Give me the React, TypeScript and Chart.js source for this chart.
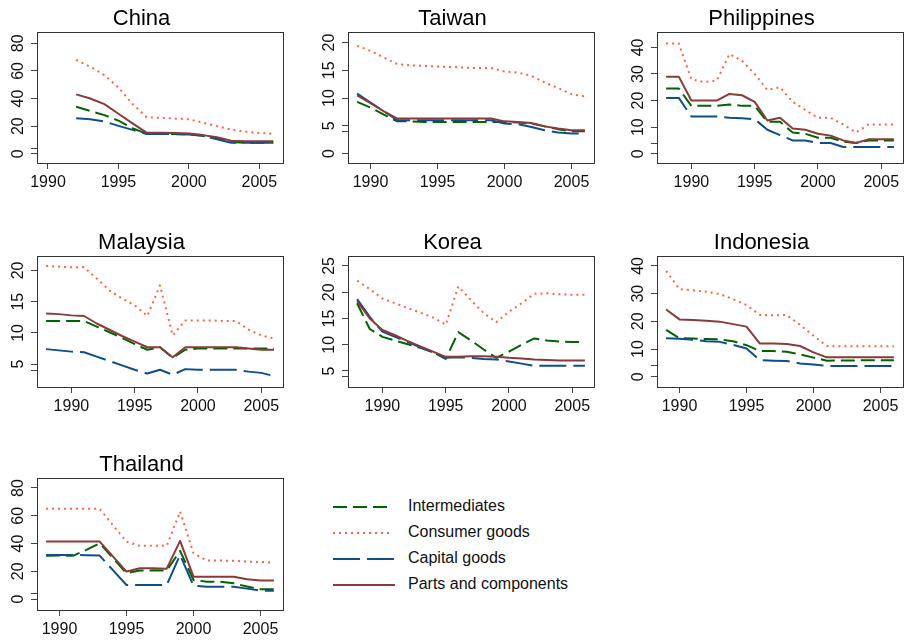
import React, { useEffect, useRef } from "react";
import { Chart, registerables } from "chart.js";

Chart.register(...registerables);

const FONT = "'Liberation Sans', Arial, Helvetica, sans-serif";

const SERIES = ["Intermediates", "Consumer goods", "Capital goods", "Parts and components"];
const X_TICKS = [1990, 1995, 2000, 2005];
const EXTRA_TICK = 4;

const YEARS_88 = [1988, 1989, 1990, 1991, 1992, 1993, 1994, 1995, 1996, 1997, 1998, 1999, 2000, 2001, 2002, 2003, 2004, 2005, 2006];
const YEARS_89 = [1989, 1990, 1991, 1992, 1993, 1994, 1995, 1996, 1997, 1998, 1999, 2000, 2001, 2002, 2003, 2004, 2005, 2006];
const YEARS_92 = [1992, 1993, 1994, 1995, 1996, 1997, 1998, 1999, 2000, 2001, 2002, 2003, 2004, 2005, 2006];

// China
const chinaInter = [34, 31, 28, 24, 18.5, 14.5, 14.5, 14.3, 14, 13, 11, 8.5, 8, 8, 8];
const chinaConsumer = [68, 63, 57, 48, 36, 26.5, 26, 25.5, 25, 22.5, 20, 17.5, 16, 15, 14.5];
const chinaCapital = [25.7, 25, 23.4, 20.2, 17.3, 14.3, 14.3, 14.2, 14, 13, 10.5, 8, 8, 8, 8];
const chinaParts = [43, 40, 36, 29, 22, 15.3, 15.2, 15, 14.6, 13.5, 12, 9.5, 9, 9, 9];
const chinaTicks = [0, 20, 40, 60, 80];

// Taiwan
const taiwanInter = [9.3, 8.3, 7.0, 5.8, 5.8, 5.7, 5.7, 5.7, 5.7, 5.7, 5.7, 5.7, 5.6, 5.4, 4.9, 4.4, 4.0, 4.0];
const taiwanConsumer = [19.4, 18.5, 17.3, 16.1, 15.9, 15.8, 15.7, 15.6, 15.5, 15.4, 15.4, 14.8, 14.6, 14.0, 12.8, 11.8, 10.7, 10.3];
const taiwanCapital = [10.8, 9.2, 7.6, 6.0, 6.0, 6.0, 6.0, 6.0, 6.0, 6.0, 6.0, 5.4, 5.3, 4.8, 4.2, 3.8, 3.6, 3.6];
const taiwanParts = [10.5, 9.1, 7.6, 6.3, 6.3, 6.3, 6.3, 6.3, 6.3, 6.3, 6.3, 5.8, 5.7, 5.5, 4.9, 4.5, 4.2, 4.2];
const taiwanTicks = [0, 5, 10, 15, 20];

// Philippines
const philInter = [24.5, 24.5, 18, 18, 18, 18.5, 18, 18, 12, 12, 8, 7.5, 6, 6, 4.5, 4, 5, 5, 5];
const philConsumer = [41.5, 41.5, 28, 27, 27.5, 37.5, 35, 30, 24, 25, 19.5, 16.5, 13.5, 13.5, 11, 8, 11, 11, 11];
const philCapital = [21, 21, 14, 14, 14, 13.5, 13.3, 13, 9, 7, 5, 5, 4, 4, 2.5, 2.5, 2.5, 2.5, 2.5];
const philParts = [29, 29, 20, 20, 20, 22.5, 22, 19.5, 12.5, 13.5, 9.5, 9, 7.5, 6.8, 5, 4, 5.4, 5.4, 5.4];
const philTicks = [0, 10, 20, 30, 40];

// Malaysia
const malInter = [11.9, 11.9, 11.9, 11.9, 11.0, 10.1, 9.2, 8.2, 7.3, 7.7, 6.0, 7.3, 7.5, 7.5, 7.5, 7.5, 7.5, 7.5, 7.5];
const malConsumer = [20.7, 20.6, 20.5, 20.5, 18.7, 16.8, 15.5, 14.4, 12.7, 17.6, 9.6, 12, 12, 12, 11.9, 11.9, 10.5, 9.6, 9.1];
const malCapital = [7.4, 7.2, 7.0, 6.9, 6.2, 5.5, 4.8, 4.1, 3.5, 4.1, 3.3, 4.2, 4.1, 4.1, 4.1, 4.1, 3.8, 3.6, 3.1];
const malParts = [13.1, 13.0, 12.8, 12.7, 11.5, 10.5, 9.5, 8.6, 7.7, 7.7, 6.1, 7.7, 7.7, 7.7, 7.7, 7.7, 7.5, 7.3, 7.3];
const malTicks = [5, 10, 15, 20];

// Korea
const korInter = [17.9, 13.0, 11.5, 10.8, 10.1, 9.4, 8.6, 7.3, 12.4, 10.8, 9.1, 7.5, 8.7, 10.0, 11.2, 10.8, 10.6, 10.5, 10.5];
const korConsumer = [22.2, 20.6, 18.8, 17.9, 17.0, 16.1, 15.2, 13.8, 21.1, 18.5, 16.0, 14.3, 16.3, 17.9, 19.7, 19.8, 19.6, 19.5, 19.5];
const korCapital = [18.7, 15.3, 12.5, 11.5, 10.5, 9.5, 8.5, 7.5, 7.6, 7.5, 7.3, 7.2, 6.8, 6.4, 6.0, 6.0, 6.0, 6.0, 6.0];
const korParts = [18.3, 15.0, 12.8, 11.8, 10.7, 9.7, 8.7, 7.7, 7.7, 7.8, 7.8, 7.7, 7.5, 7.4, 7.2, 7.1, 7.0, 7.0, 7.0];
const korTicks = [5, 10, 15, 20, 25];

// Indonesia
const indoInter = [16.9, 13.9, 13.8, 13.6, 13.5, 12.8, 11.4, 9.3, 9.3, 9.0, 8.1, 6.9, 5.8, 5.9, 5.9, 6.0, 6.0, 6.0];
const indoConsumer = [38.2, 31.6, 31.2, 30.7, 29.9, 28, 25.9, 22.3, 22.2, 22.3, 18.7, 14.8, 11.1, 11, 11, 11, 11, 11];
const indoCapital = [13.9, 13.7, 13.4, 12.8, 12.6, 11.5, 10.2, 6.0, 5.8, 5.7, 4.8, 4.4, 3.9, 3.9, 3.9, 3.9, 3.9, 3.9];
const indoParts = [24.3, 20.7, 20.5, 20.2, 19.9, 19.0, 18.1, 12.0, 12.0, 11.8, 11.1, 8.8, 7.0, 7.0, 7.0, 7.0, 7.0, 7.0];
const indoTicks = [0, 10, 20, 30, 40];

// Thailand
const thaiInter = [31.1, 31.3, 31.1, 35.4, 40.2, 29.4, 18.6, 20.5, 20.7, 20.5, 34.7, 13.7, 12.5, 12.5, 11.3, 9.0, 7.0, 7.0];
const thaiConsumer = [65, 65, 65, 65, 65, 53, 41.4, 38.3, 38.5, 38.3, 63.1, 33, 27.7, 27.7, 27.5, 27, 26.7, 26.3];
const thaiCapital = [31.8, 31.8, 31.8, 31.5, 31.3, 20.7, 10.1, 10.1, 10.1, 10.1, 31.8, 9.6, 8.9, 8.9, 8.9, 7.5, 6.0, 6.0];
const thaiParts = [41.4, 41.4, 41.4, 41.4, 41.4, 30.6, 19.8, 22.2, 22.2, 21.9, 41.9, 16.1, 16.1, 16.1, 16.1, 14.2, 13.3, 13.3];
const thaiTicks = [0, 20, 40, 60, 80];

// line styles for the four series, same order as SERIES
const STYLES = [
  { color: "#006400", dash: [14, 6], order: 3 },
  { color: "#FF6347", dash: [2, 4], order: 2 },
  { color: "#104E8B", dash: [27, 7], order: 1 },
  { color: "#8B3A3A", dash: [], order: 0 },
];

type Panel = {
  name: string;
  years: number[];
  series: number[][];
  yTicks: number[];
  yRange: [number, number];
  xRange: [number, number];
  left: number;
  top: number;
  boxH: number;
};

const COL = [37, 348, 657];
const ROW = [32, 256, 478];
const BOX_W = 246;
const Y_AXIS_W = 37;
const TITLE_H = 28;
const X_AXIS_H = 30;

const PANELS: Panel[] = [
  { name: "China", years: YEARS_92, series: [chinaInter, chinaConsumer, chinaCapital, chinaParts], yTicks: chinaTicks, yRange: [-6.7, 88.2], xRange: [1989.22, 2006.68], left: COL[0], top: ROW[0], boxH: 131 },
  { name: "Taiwan", years: YEARS_89, series: [taiwanInter, taiwanConsumer, taiwanCapital, taiwanParts], yTicks: taiwanTicks, yRange: [-1.7, 21.9], xRange: [1988.32, 2006.68], left: COL[1], top: ROW[0], boxH: 131 },
  { name: "Philippines", years: YEARS_88, series: [philInter, philConsumer, philCapital, philParts], yTicks: philTicks, yRange: [-3.5, 45.8], xRange: [1987.28, 2006.72], left: COL[2], top: ROW[0], boxH: 131 },
  { name: "Malaysia", years: YEARS_88, series: [malInter, malConsumer, malCapital, malParts], yTicks: malTicks, yRange: [1.34, 22.3], xRange: [1987.28, 2006.72], left: COL[0], top: ROW[1], boxH: 131 },
  { name: "Korea", years: YEARS_88, series: [korInter, korConsumer, korCapital, korParts], yTicks: korTicks, yRange: [1.95, 26.9], xRange: [1987.28, 2006.72], left: COL[1], top: ROW[1], boxH: 131 },
  { name: "Indonesia", years: YEARS_89, series: [indoInter, indoConsumer, indoCapital, indoParts], yTicks: indoTicks, yRange: [-3.7, 43.6], xRange: [1988.32, 2006.68], left: COL[2], top: ROW[1], boxH: 131 },
  { name: "Thailand", years: YEARS_89, series: [thaiInter, thaiConsumer, thaiCapital, thaiParts], yTicks: thaiTicks, yRange: [-7.9, 87.2], xRange: [1988.32, 2006.68], left: COL[0], top: ROW[2], boxH: 132 },
];

// frame around the plotting region
const boxPlugin = {
  id: "plotBox",
  afterDraw(chart: any) {
    const { ctx, chartArea: a } = chart;
    ctx.save();
    ctx.strokeStyle = "#333";
    ctx.lineWidth = 1;
    ctx.strokeRect(Math.round(a.left) + 0.5, Math.round(a.top) + 0.5, Math.round(a.right - a.left), Math.round(a.bottom - a.top));
    ctx.restore();
  },
};

function PanelChart({ p }: { p: Panel }) {
  const ref = useRef<HTMLCanvasElement>(null);
  const width = Y_AXIS_W + BOX_W + 2;
  const height = TITLE_H + p.boxH + X_AXIS_H;

  useEffect(() => {
    if (!ref.current) return;
    const chart = new Chart(ref.current, {
      type: "line",
      data: {
        datasets: SERIES.map((label, k) => ({
          label,
          data: p.years.map((x, i) => ({ x, y: p.series[k][i] })),
          borderColor: STYLES[k].color,
          borderDash: STYLES[k].dash,
          borderWidth: 2,
          borderCapStyle: "butt",
          borderJoinStyle: "round",
          pointRadius: 0,
          tension: 0,
          fill: false,
          order: STYLES[k].order,
        })),
      },
      options: {
        animation: false,
        responsive: false,
        maintainAspectRatio: false,
        layout: { padding: { left: 0, right: 2, top: 0, bottom: 0 } },
        plugins: {
          legend: { display: false },
          tooltip: { enabled: false },
          title: {
            display: true,
            text: p.name,
            color: "#000",
            font: { family: FONT, size: 22, weight: "normal", lineHeight: 1.2 },
            padding: { top: 1.6, bottom: 0 },
          },
        },
        scales: {
          x: {
            type: "linear",
            min: p.xRange[0],
            max: p.xRange[1],
            afterBuildTicks: (s: any) => {
              s.ticks = X_TICKS.map((v) => ({ value: v }));
            },
            afterFit: (s: any) => {
              s.height = X_AXIS_H;
            },
            ticks: {
              autoSkip: false,
              minRotation: 0,
              maxRotation: 0,
              padding: 3.5,
              color: "#111",
              font: { family: FONT, size: 16 },
              callback: (v: any) => String(v),
            },
            grid: { drawOnChartArea: false, drawTicks: true, tickLength: 6, color: "#444" },
            border: { display: false },
          },
          y: {
            type: "linear",
            min: p.yRange[0],
            max: p.yRange[1],
            afterBuildTicks: (s: any) => {
              s.ticks = [...p.yTicks, EXTRA_TICK].map((v) => ({ value: v }));
            },
            afterFit: (s: any) => {
              s.width = Y_AXIS_W;
            },
            ticks: {
              autoSkip: false,
              minRotation: 90,
              maxRotation: 90,
              crossAlign: "center",
              padding: 3.5,
              color: "#111",
              font: { family: FONT, size: 16 },
              callback: (v: any) => (p.yTicks.includes(v) ? String(v) : ""),
            },
            grid: { drawOnChartArea: false, drawTicks: true, tickLength: 6, color: "#444" },
            border: { display: false },
          },
        },
      } as any,
      plugins: [boxPlugin],
    });
    return () => chart.destroy();
  }, [p]);

  return (
    <canvas
      ref={ref}
      width={width}
      height={height}
      style={{ position: "absolute", left: p.left - Y_AXIS_W, top: p.top - TITLE_H, width, height }}
    />
  );
}

function Legend() {
  const rows = [507, 533, 559, 585];
  const ends = [390, 390, 395, 395];
  return (
    <svg width={300} height={110} style={{ position: "absolute", left: 320, top: 490 }} viewBox="320 490 300 110">
      {SERIES.map((label, k) => (
        <g key={label}>
          <line
            x1={333}
            x2={ends[k]}
            y1={rows[k]}
            y2={rows[k]}
            stroke={STYLES[k].color}
            strokeWidth={2}
            strokeDasharray={STYLES[k].dash.length ? STYLES[k].dash.join(" ") : undefined}
          />
          <text x={408} y={rows[k]} dominantBaseline="middle" fontFamily={FONT} fontSize={16} fill="#111">
            {label}
          </text>
        </g>
      ))}
    </svg>
  );
}

export default function App() {
  return (
    <div style={{ position: "absolute", left: 0, top: 0, width: 904, height: 640, overflow: "hidden", background: "#fff" }}>
      {PANELS.map((p) => (
        <PanelChart key={p.name} p={p} />
      ))}
      <Legend />
    </div>
  );
}
